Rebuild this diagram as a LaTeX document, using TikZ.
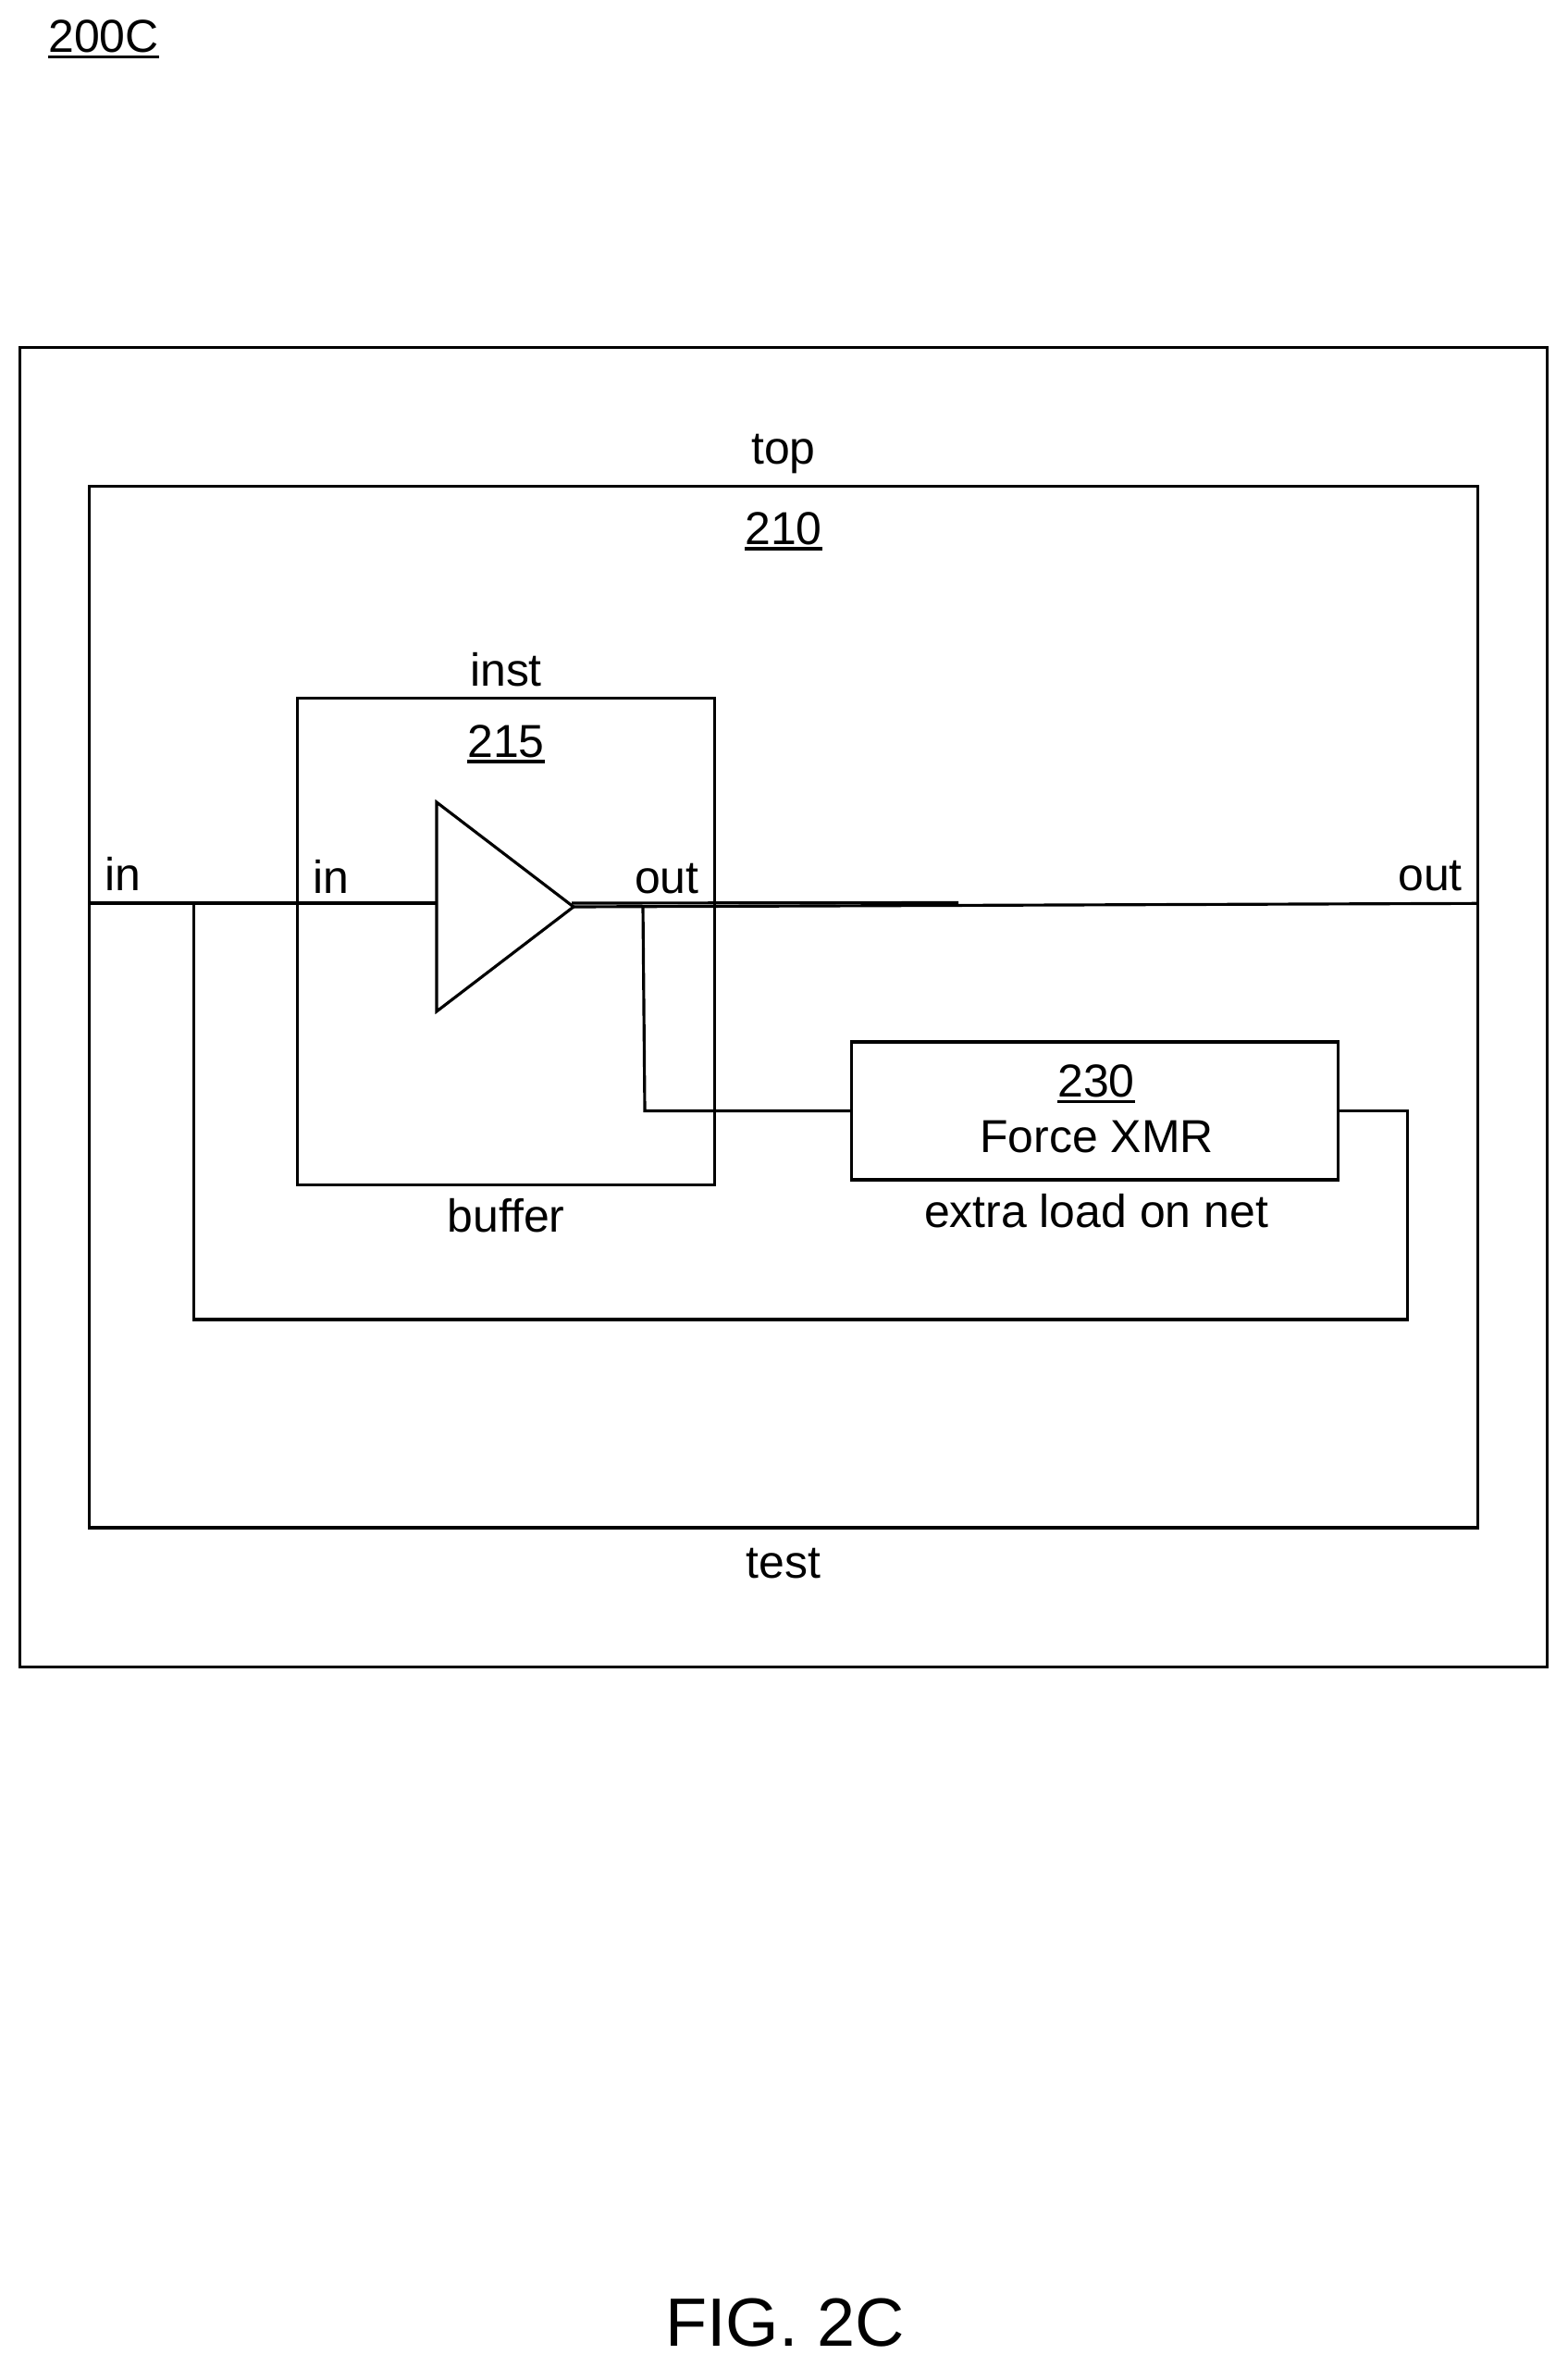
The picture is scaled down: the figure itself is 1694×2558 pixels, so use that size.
\documentclass[tikz,border=0pt]{standalone}
\usepackage{fontspec}
\setmainfont{Liberation Sans}

\newcommand{\ulnum}[1]{\setbox0=\hbox{#1}\rlap{\rule[-1.85pt]{\wd0}{1pt}}\box0}

\tikzset{
    wire/.style={line width=.9pt, line join=miter},
    blockbox/.style={draw, line width=.9pt, inner sep=0, outer sep=0},
    lbl/.style={anchor=base, inner sep=0, font=\fontsize{14.2}{16}\selectfont},
    figlbl/.style={anchor=base, inner sep=0, font=\fontsize{21}{24}\selectfont}
}

\begin{document}
\begin{tikzpicture}[x=.01cm, y=-.01cm]
    \useasboundingbox (0, 0) rectangle (1694, 2558);

    % boxes
    \node[blockbox, minimum width=16.5cm, minimum height=14.25cm] (top) at (847, 1088.5) {};
    \node[blockbox, minimum width=15cm, minimum height=11.247cm] (test) at (847, 1088.35) {};
    \node[blockbox, minimum width=4.5cm, minimum height=5.255cm] (inst) at (547, 1017.75) {};
    \node[blockbox, minimum width=5.257cm, minimum height=1.49cm] (force) at (1183.85, 1200.5) {};

    % buffer triangle
    \coordinate (trigtop) at (472, 867);
    \coordinate (trigbot) at (472, 1093);
    \coordinate (trigtip) at (620, 980);
    \draw[wire] (trigtop) -- (trigtip) -- (trigbot) -- cycle;

    % wires
    \coordinate (inwest) at (97, 976);
    \coordinate (inbuf) at (472, 976);
    \coordinate (inturn) at (209.5, 976);
    \coordinate (outeast) at (1597, 976.3);
    \coordinate (stubwest) at (618, 976);
    \coordinate (stubeast) at (1036, 975.5);
    \coordinate (tapout) at (695, 979);
    \coordinate (tapturn) at (697, 1200.5);
    \coordinate (loopeast) at (1521.7, 1200.5);
    \coordinate (loopse) at (1521.7, 1426);
    \coordinate (loopsw) at (209.5, 1426);

    \draw[wire] (inwest) -- (inbuf);
    \draw[wire] (trigtip) -- (outeast);
    \draw[wire] (stubwest) -- (stubeast);
    \draw[wire] (tapout) -- (tapturn) -- (force.west);
    \draw[wire] (force.east) -- (loopeast) -- (loopse) -- (loopsw) -- (inturn);

    % labels
    \node[lbl] (l200c) at (112, 56.7) {\ulnum{200C}};
    \node[lbl] (ltop) at (847, 501.7) {top};
    \node[lbl] (l210) at (847, 588.3) {\ulnum{210}};
    \node[lbl] (linst) at (547, 741) {inst};
    \node[lbl] (l215) at (547, 818.5) {\ulnum{215}};
    \node[lbl] (linwest) at (133, 962.7) {in};
    \node[lbl] (linbuf) at (358, 965.3) {in};
    \node[lbl] (loutbuf) at (720.7, 965) {out};
    \node[lbl] (louteast) at (1546, 962.7) {out};
    \node[lbl] (l230) at (1185, 1185.7) {\ulnum{230}};
    \node[lbl] (lforce) at (1185.5, 1245.7) {Force XMR};
    \node[lbl] (lload) at (1185, 1326.7) {extra load on net};
    \node[lbl] (lbuffer) at (547, 1331.5) {buffer};
    \node[lbl] (ltest) at (847, 1705) {test};
    \node[figlbl] (lfig) at (848.5, 2535.7) {FIG. 2C};
\end{tikzpicture}
\end{document}
